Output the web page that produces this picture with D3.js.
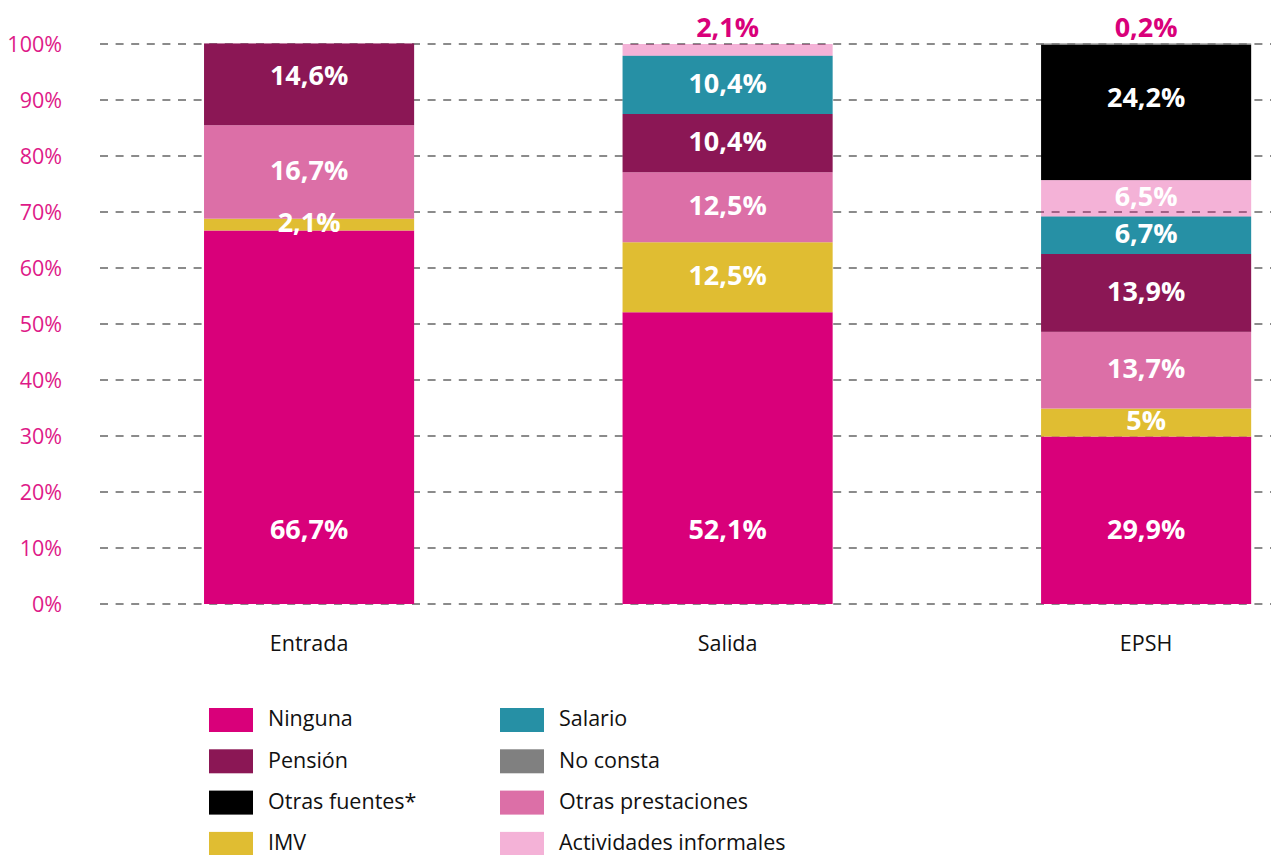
<!DOCTYPE html>
<html>
<head>
<meta charset="utf-8">
<script src="https://cdn.jsdelivr.net/npm/d3@7"></script>
<style>
  body { margin: 0; background: #fff; }
  text { font-family: "Open Sans", sans-serif; }
</style>
</head>
<body>
<svg id="chart"></svg>
<script>
const width = 1271, height = 855;

// categories and series (stack order, bottom to top)
const categories = ['Entrada', 'Salida', 'EPSH'];
const seriesNames = ['Ninguna', 'IMV', 'Otras prestaciones', 'Pensión', 'Salario', 'Actividades informales', 'Otras fuentes*', 'No consta'];
const ninguna        = [66.7, 52.1, 29.9];
const imv            = [2.1, 12.5, 5];
const otrasPrest     = [16.7, 12.5, 13.7];
const pension        = [14.6, 10.4, 13.9];
const salario        = [0, 10.4, 6.7];
const actInformales  = [0, 2.1, 6.5];
const otrasFuentes   = [0, 0, 24.2];
const noConsta       = [0, 0, 0.2];
const yTicks = [0, 10, 20, 30, 40, 50, 60, 70, 80, 90, 100];

// legend layout order
const legendCol1 = ['Ninguna', 'Pensión', 'Otras fuentes*', 'IMV'];
const legendCol2 = ['Salario', 'No consta', 'Otras prestaciones', 'Actividades informales'];

const seriesValues = [ninguna, imv, otrasPrest, pension, salario, actInformales, otrasFuentes, noConsta];

const color = d3.scaleOrdinal()
  .domain(seriesNames)
  .range(['#d9007a', '#e0bd32', '#dc6fa7', '#8b1755', '#2690a5', '#d9007a', '#000000', '#808080']);
const opacity = name => name === 'Actividades informales' ? 0.3 : 1;

const rows = categories.map((c, i) => {
  const r = { cat: c };
  seriesNames.forEach((s, j) => { r[s] = seriesValues[j][i]; });
  return r;
});
const stacked = d3.stack().keys(seriesNames)(rows);

const marginLeft = 100, marginTop = 44, plotBottom = 604;

const y = d3.scaleLinear().domain([0, 100]).range([plotBottom, marginTop]);
const x = d3.scaleBand().domain(categories).range([99.4, 1355.8])
  .paddingInner(0.498).paddingOuter(0.25);

const svg = d3.select('#chart')
  .attr('width', width)
  .attr('height', height)
  .attr('viewBox', [0, 0, width, height]);

// grid
svg.append('g').selectAll('line')
  .data(yTicks)
  .join('line')
  .attr('x1', marginLeft).attr('x2', width)
  .attr('y1', d => y(d)).attr('y2', d => y(d))
  .style('stroke', '#666')
  .style('stroke-width', 1.5)
  .style('stroke-dasharray', '8,7.6');

// y axis labels
svg.append('g').selectAll('text')
  .data(yTicks)
  .join('text')
  .attr('x', 62).attr('y', d => y(d))
  .attr('dy', '0.36em')
  .attr('text-anchor', 'end')
  .style('font-size', '21.5px')
  .style('fill', '#de1a88')
  .text(d => d + '%');

// bars
const layer = svg.append('g').selectAll('g')
  .data(stacked)
  .join('g')
  .style('fill', d => color(d.key))
  .style('fill-opacity', d => opacity(d.key));

layer.selectAll('rect')
  .data(d => d)
  .join('rect')
  .attr('x', d => x(d.data.cat))
  .attr('width', x.bandwidth())
  .attr('y', d => y(d[1]))
  .attr('height', d => y(d[0]) - y(d[1]));

// value labels
const fmt = v => String(v).replace('.', ',') + '%';
const labels = [];
stacked.forEach((s, si) => {
  s.forEach(d => {
    const v = d[1] - d[0];
    if (v <= 0) return;
    const isTop = d[1] >= 99.5;
    const yTop = y(d[1]), yBot = y(d[0]);
    let ly, outside = false;
    if (isTop && v < 3) {
      ly = y(100) - 17;
      outside = true;
    } else if (si === 0) {
      ly = y(0) - 75;
    } else if (isTop) {
      ly = yTop + (yBot - yTop) * 0.39;
    } else {
      ly = (yTop + yBot) / 2 - 2;
    }
    labels.push({ cat: d.data.cat, v: Math.round(v * 10) / 10, ly, outside });
  });
});

svg.append('g').selectAll('text')
  .data(labels)
  .join('text')
  .attr('x', d => x(d.cat) + x.bandwidth() / 2)
  .attr('y', d => d.ly)
  .attr('dy', '0.36em')
  .attr('text-anchor', 'middle')
  .style('font-size', '27px')
  .style('font-weight', 'bold')
  .style('fill', d => d.outside ? '#d9007a' : '#fff')
  .text(d => fmt(d.v));

// category labels
svg.append('g').selectAll('text')
  .data(categories)
  .join('text')
  .attr('x', d => x(d) + x.bandwidth() / 2)
  .attr('y', 643)
  .attr('dy', '0.36em')
  .attr('text-anchor', 'middle')
  .style('font-size', '21.5px')
  .style('fill', '#111')
  .text(d => d);

// legend
const legend = svg.append('g');
[[legendCol1, 209], [legendCol2, 500]].forEach(([items, lx]) => {
  items.forEach((name, i) => {
    const cy = 720 + i * 41.3;
    legend.append('rect')
      .attr('x', lx).attr('y', cy - 12)
      .attr('width', 44).attr('height', 24)
      .style('fill', color(name))
      .style('fill-opacity', opacity(name));
    legend.append('text')
      .attr('x', lx + 59).attr('y', cy)
      .attr('dy', '0.3em')
      .style('font-size', '21.5px')
      .style('fill', '#111')
      .text(name);
  });
});
</script>
</body>
</html>
